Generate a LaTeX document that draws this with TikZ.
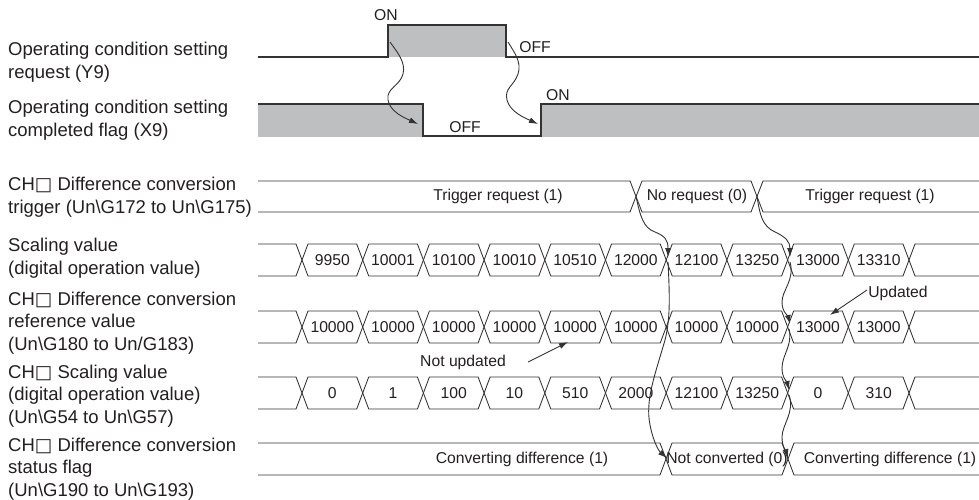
\documentclass[tikz,border=0pt]{standalone}
\usepackage{fontspec}
\setmainfont{Liberation Sans}
\newfontfamily\symfont{DejaVu Sans}
\usetikzlibrary{arrows.meta}
\definecolor{ln}{HTML}{333333}
\definecolor{txt}{HTML}{231F20}
\definecolor{fillg}{HTML}{BEBFC1}
\newcommand\chbox{CH{\symfont □}}
\newcommand\valrow[2]{%
  \pgfmathsetmacro\ym{(#1+#2)/2}
  \draw[bus] (258,#1) -- (296,#1) -- (302,\ym) -- (296,#2) -- (258,#2);
  \foreach \k in {0,...,9} {
    \pgfmathsetmacro\ca{302+60.7*\k}
    \pgfmathsetmacro\cb{302+60.7*(\k+1)}
    \draw[bus] (\ca,\ym) -- (\ca+6,#1) -- (\cb-6,#1) -- (\cb,\ym) -- (\cb-6,#2) -- (\ca+6,#2) -- cycle;
  }
  \draw[bus] (979,#1) -- (915,#1) -- (909,\ym) -- (915,#2) -- (979,#2);
}
\begin{document}
\begin{tikzpicture}[x=1pt,y=-1pt, line join=miter,
  sig/.style={draw=ln, line width=1.1pt},
  bus/.style={draw=ln, line width=0.85pt},
  lbl/.style={anchor=west, align=left, inner sep=0pt, font=\fontsize{18.5}{22.5}\selectfont, text=txt},
  val/.style={inner sep=0pt, font=\fontsize{15.7}{18}\selectfont, text=txt},
  arr/.style={draw=ln, line width=0.9pt, -{Latex[length=9pt,width=6pt]}},
]
\useasboundingbox (0,0) rectangle (979,500);

% left labels
\node[lbl] (l1) at (8,62) {Operating condition setting\\request (Y9)};
\node[lbl] (l2) at (8,120) {Operating condition setting\\completed flag (X9)};
\node[lbl] (l3) at (8,197) {\chbox{} Difference conversion\\trigger (Un\textbackslash G172 to Un\textbackslash G175)};
\node[lbl] (l4) at (8,258) {Scaling value\\(digital operation value)};
\node[lbl] (l5) at (8,323) {\chbox{} Difference conversion\\reference value\\(Un\textbackslash G180 to Un/G183)};
\node[lbl] (l6) at (8,396) {\chbox{} Scaling value\\(digital operation value)\\(Un\textbackslash G54 to Un\textbackslash G57)};
\node[lbl] (l7) at (8,469) {\chbox{} Difference conversion\\status flag\\(Un\textbackslash G190 to Un\textbackslash G193)};

% Y9
\fill[fillg] (388,25) rectangle (506,57);
\draw[sig] (258,57) -- (388,57) -- (388,25) -- (506,25) -- (506,57) -- (979,57);
\node[val] (on1) at (386,15) {ON};
\node[val] (off1) at (535,47) {OFF};

% X9
\fill[fillg] (258,104) rectangle (423,137);
\fill[fillg] (541,104) rectangle (979,137);
\draw[sig] (258,104) -- (423,104) -- (423,136) -- (541,136) -- (541,104) -- (979,104);
\node[val] (off2) at (465,127) {OFF};
\node[val] (on2) at (558,95) {ON};

\draw[arr] (390,42) .. controls (397,52) and (406,62) .. (403,74) .. controls (400,86) and (386,88) .. (388,100) .. controls (390,112) and (405,118) .. (418,124);
\draw[arr] (508,42) .. controls (514,52) and (522,62) .. (518,74) .. controls (514,86) and (504,88) .. (507,100) .. controls (510,112) and (525,118) .. (538,124);

% trigger row
\draw[bus] (258,181) -- (630,181) -- (636,196.5) -- (630,212) -- (258,212);
\draw[bus] (636,196.5) -- (642,181) -- (751,181) -- (757,196.5) -- (751,212) -- (642,212) -- cycle;
\draw[bus] (979,181) -- (763,181) -- (757,196.5) -- (763,212) -- (979,212);
\node[val] (t1) at (498,196.5) {Trigger request (1)};
\node[val] (t2) at (697,196.5) {No request (0)};
\node[val] (t3) at (870,196.5) {Trigger request (1)};

% scaling value row
\valrow{244}{276}
\foreach \v [count=\i from 0] in {9950,10001,10100,10010,10510,12000,12100,13250,13000,13310} {
  \pgfmathsetmacro\cx{332.35+60.7*\i}
  \node[val] (s\i) at (\cx,260) {\v};
}

% reference value row
\valrow{311}{343}
\foreach \v [count=\i from 0] in {10000,10000,10000,10000,10000,10000,10000,10000,13000,13000} {
  \pgfmathsetmacro\cx{332.35+60.7*\i}
  \node[val] (r\i) at (\cx,327) {\v};
}

% CH scaling value row
\valrow{377}{409}
\foreach \v [count=\i from 0] in {0,1,100,10,510,2000,12100,13250,0,310} {
  \pgfmathsetmacro\cx{332.35+60.7*\i}
  \node[val] (c\i) at (\cx,393) {\v};
}

% status row
\draw[bus] (258,443) -- (660,443) -- (666,459) -- (660,475) -- (258,475);
\draw[bus] (666,459) -- (672,443) -- (782,443) -- (788,459) -- (782,475) -- (672,475) -- cycle;
\draw[bus] (979,443) -- (794,443) -- (788,459) -- (794,475) -- (979,475);
\node[val] (f1) at (522,459) {Converting difference (1)};
\node[val] (f2) at (727,459) {Not converted (0)};
\node[val] (f3) at (890,459) {Converting difference (1)};

% annotations
\node[val] (nu) at (463,362) {Not updated};
\coordinate (nus) at (528,362);
\coordinate (nue) at (568,342);
\draw[arr] (nus) -- (nue);
\node[val] (up) at (898,293) {Updated};
\coordinate (ups) at (867,290);
\coordinate (upe) at (830,315);
\draw[arr] (ups) -- (upe);

% long arrows
\draw[arr] (636,196.5) .. controls (640,215) and (643,228) .. (655,232) .. controls (665,236) and (668,240) .. (668,257);
\draw[arr] (668,262) .. controls (670,300) and (670,320) .. (665,340) .. controls (655,375) and (645,400) .. (650,425) .. controls (654,445) and (660,452) .. (667,458);
\draw[arr] (757,196.5) .. controls (760,215) and (762,226) .. (775,232) .. controls (786,237) and (790,242) .. (790,257);
\draw[arr] (790,262) .. controls (795,280) and (782,290) .. (782,302) .. controls (782,312) and (788,316) .. (790,324);
\draw[arr] (789,329) .. controls (793,345) and (782,355) .. (782,368) .. controls (782,378) and (787,382) .. (789,390);
\draw[arr] (789,395) .. controls (795,412) and (782,425) .. (782,437) .. controls (782,447) and (786,451) .. (788,458);
\end{tikzpicture}
\end{document}
